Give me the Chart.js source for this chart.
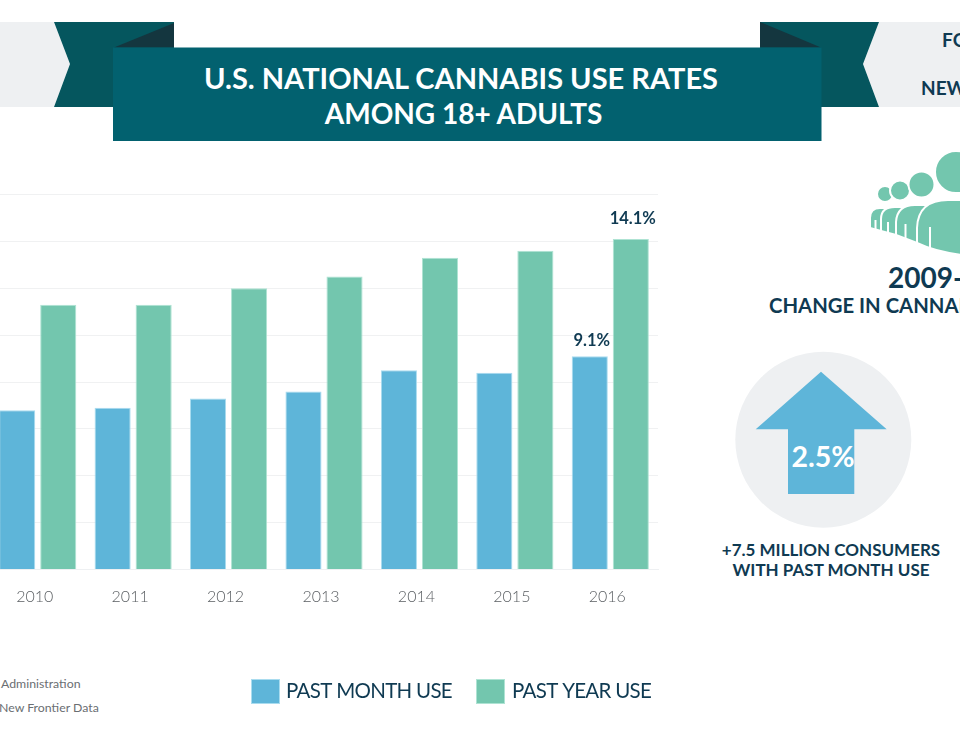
<!DOCTYPE html>
<html><head><meta charset="utf-8">
<style>
html,body{margin:0;padding:0;background:#fff;width:960px;height:750px;overflow:hidden}
#deco{position:absolute;left:0;top:0;width:960px;height:750px}
#chartBox{position:absolute;left:-10px;top:0;width:970px;height:750px}
text{font-family:Lato,sans-serif}
</style>
<script src="https://cdn.jsdelivr.net/npm/chart.js@4"></script>
</head><body>
<svg id="deco" viewBox="0 0 960 750" xmlns="http://www.w3.org/2000/svg">
  <polygon points="0,22 54,22 70,64 54,107 0,107" fill="#eef0f2"/>
  <polygon points="54,22 174,22 174,60 113,107 54,107 70,64" fill="#05565e"/>
  <polygon points="114,47.5 174,23 174,47.5" fill="#14363f"/>
  <polygon points="879,22 960,22 960,107 879,107 863,64" fill="#eef0f2"/>
  <polygon points="760,22 879,22 863,64 879,107 821,107 760,60" fill="#05565e"/>
  <polygon points="760,22 821,47.5 760,47.5" fill="#14363f"/>
  <rect x="113" y="47.5" width="708.5" height="93.5" fill="#02616f"/>
  <g fill="#ffffff" font-weight="700" text-anchor="middle">
    <text x="461" y="89" font-size="29">U.S. NATIONAL CANNABIS USE RATES</text>
    <text x="463.5" y="124" font-size="28">AMONG 18+ ADULTS</text>
  </g>
  <g fill="#0f3a52" font-weight="700" font-size="19">
    <text x="942" y="47">FO</text>
    <text x="921" y="95">NEW</text>
  </g>
  <g fill="#73c6ae" stroke="#fff" stroke-width="2">
    <circle cx="885" cy="194" r="8"/>
    <path d="M870 228V218Q870 208 880 208H890V236L881 231Z"/>
    <circle cx="900" cy="190.5" r="10"/>
    <path d="M881 231V219Q881 207 895 207H905V240L896 235Z"/>
    <circle cx="921.5" cy="184.5" r="13"/>
    <path d="M896 235V222Q897 205 915 205H930V250L917 243Z"/>
    <circle cx="956" cy="172" r="21"/>
    <path d="M917 243V228Q918 200 948 200H975V256Q940 254 917 243Z"/>
  </g>
  <g stroke="#fff" stroke-width="2" fill="none">
    <line x1="875.5" y1="220" x2="875.5" y2="231"/>
    <line x1="888" y1="222" x2="888" y2="236"/>
    <line x1="905.5" y1="224" x2="905.5" y2="242"/>
    <line x1="930" y1="227" x2="930" y2="250"/>
  </g>
  <g fill="#0f3a52" font-weight="700" text-anchor="start">
    <text x="888" y="288" font-size="28">2009-</text>
    <text x="769" y="313" font-size="20.3">CHANGE IN CANNAB</text>
  </g>
  <circle cx="823.3" cy="439.7" r="88" fill="#eef0f2"/>
  <polygon points="821,371.7 886.7,429.3 854.3,429.3 854.3,494 788,494 788,429.3 755.7,429.3" fill="#5eb5d9"/>
  <text x="823" y="467" fill="#fff" font-size="28.5" font-weight="700" text-anchor="middle">2.5%</text>
  <g fill="#0f3a52" font-weight="700" font-size="17" text-anchor="middle">
    <text x="831" y="556">+7.5 MILLION CONSUMERS</text>
    <text x="831" y="576">WITH PAST MONTH USE</text>
  </g>
  <g fill="#6a6e72" font-size="12.3">
    <text x="1" y="688">Administration</text>
    <text x="-1" y="712">New Frontier Data</text>
  </g>
</svg>
<div id="chartBox"><canvas id="c" width="970" height="750"></canvas></div>
<script>
const categories = ['2010','2011','2012','2013','2014','2015','2016'];
const pastMonth = [6.8,6.9,7.3,7.6,8.5,8.4,9.1];
const pastYear = [11.3,11.3,12.0,12.5,13.3,13.6,14.1];
const shownLabels = {0:{6:'9.1%'},1:{6:'14.1%'}};

const valueLabels = {
  id:'valueLabels',
  afterDatasetsDraw(chart){
    const ctx = chart.ctx;
    const lift = {0:10,1:15};
    ctx.save();
    ctx.font = '700 16.5px Lato, sans-serif';
    ctx.fillStyle = '#0f3a52';
    ctx.textAlign = 'center';
    ctx.textBaseline = 'alphabetic';
    Object.keys(shownLabels).forEach(d=>{
      const meta = chart.getDatasetMeta(+d);
      Object.keys(shownLabels[d]).forEach(i=>{
        const el = meta.data[+i];
        ctx.fillText(shownLabels[d][i], el.x + 2, el.y - lift[d]);
      });
    });
    ctx.restore();
  }
};

const legendRow = {
  id:'legendRow',
  afterDraw(chart){
    const ctx = chart.ctx;
    const slots = [{box:261,text:296},{box:486,text:522}];
    ctx.save();
    ctx.textAlign = 'left';
    ctx.textBaseline = 'alphabetic';
    ctx.font = '400 20.5px Lato, sans-serif';
    ctx.letterSpacing = '-0.7px';
    chart.data.datasets.forEach((ds,i)=>{
      ctx.fillStyle = ds.backgroundColor;
      ctx.strokeStyle = ds.borderColor;
      ctx.lineWidth = 1;
      ctx.fillRect(slots[i].box,679,29,25);
      ctx.strokeRect(slots[i].box+.5,679.5,28,24);
      ctx.fillStyle = '#0f3a52';
      ctx.fillText(ds.label,slots[i].text,698);
    });
    ctx.restore();
  }
};

new Chart(document.getElementById('c'),{
  type:'bar',
  data:{labels:categories,datasets:[
    {label:'PAST MONTH USE',data:pastMonth,backgroundColor:'#5eb5d9',borderColor:'#a9dcef',borderWidth:1},
    {label:'PAST YEAR USE',data:pastYear,backgroundColor:'#73c6ae',borderColor:'#aee3d3',borderWidth:1}
  ]},
  options:{
    responsive:false,animation:false,
    categoryPercentage:0.86,barPercentage:0.88,
    layout:{padding:{left:0,right:302,top:194.5,bottom:80.5}},
    plugins:{tooltip:{enabled:false},legend:{display:false}},
    scales:{
      x:{grid:{display:false},border:{color:'#eef0f2'},
        afterFit(s){s.height=100;},
        ticks:{color:'#5c6064',padding:10,labelOffset:-3,font:{family:'Lato, sans-serif',size:16,weight:'300'}}},
      y:{min:0,max:16,afterFit(s){s.width=0;},
        grid:{color:'#f0f1f2',lineWidth:1,drawTicks:false},border:{display:false},
        ticks:{stepSize:2,display:false}}
    }
  },
  plugins:[valueLabels,legendRow]
});
</script>
</body></html>
